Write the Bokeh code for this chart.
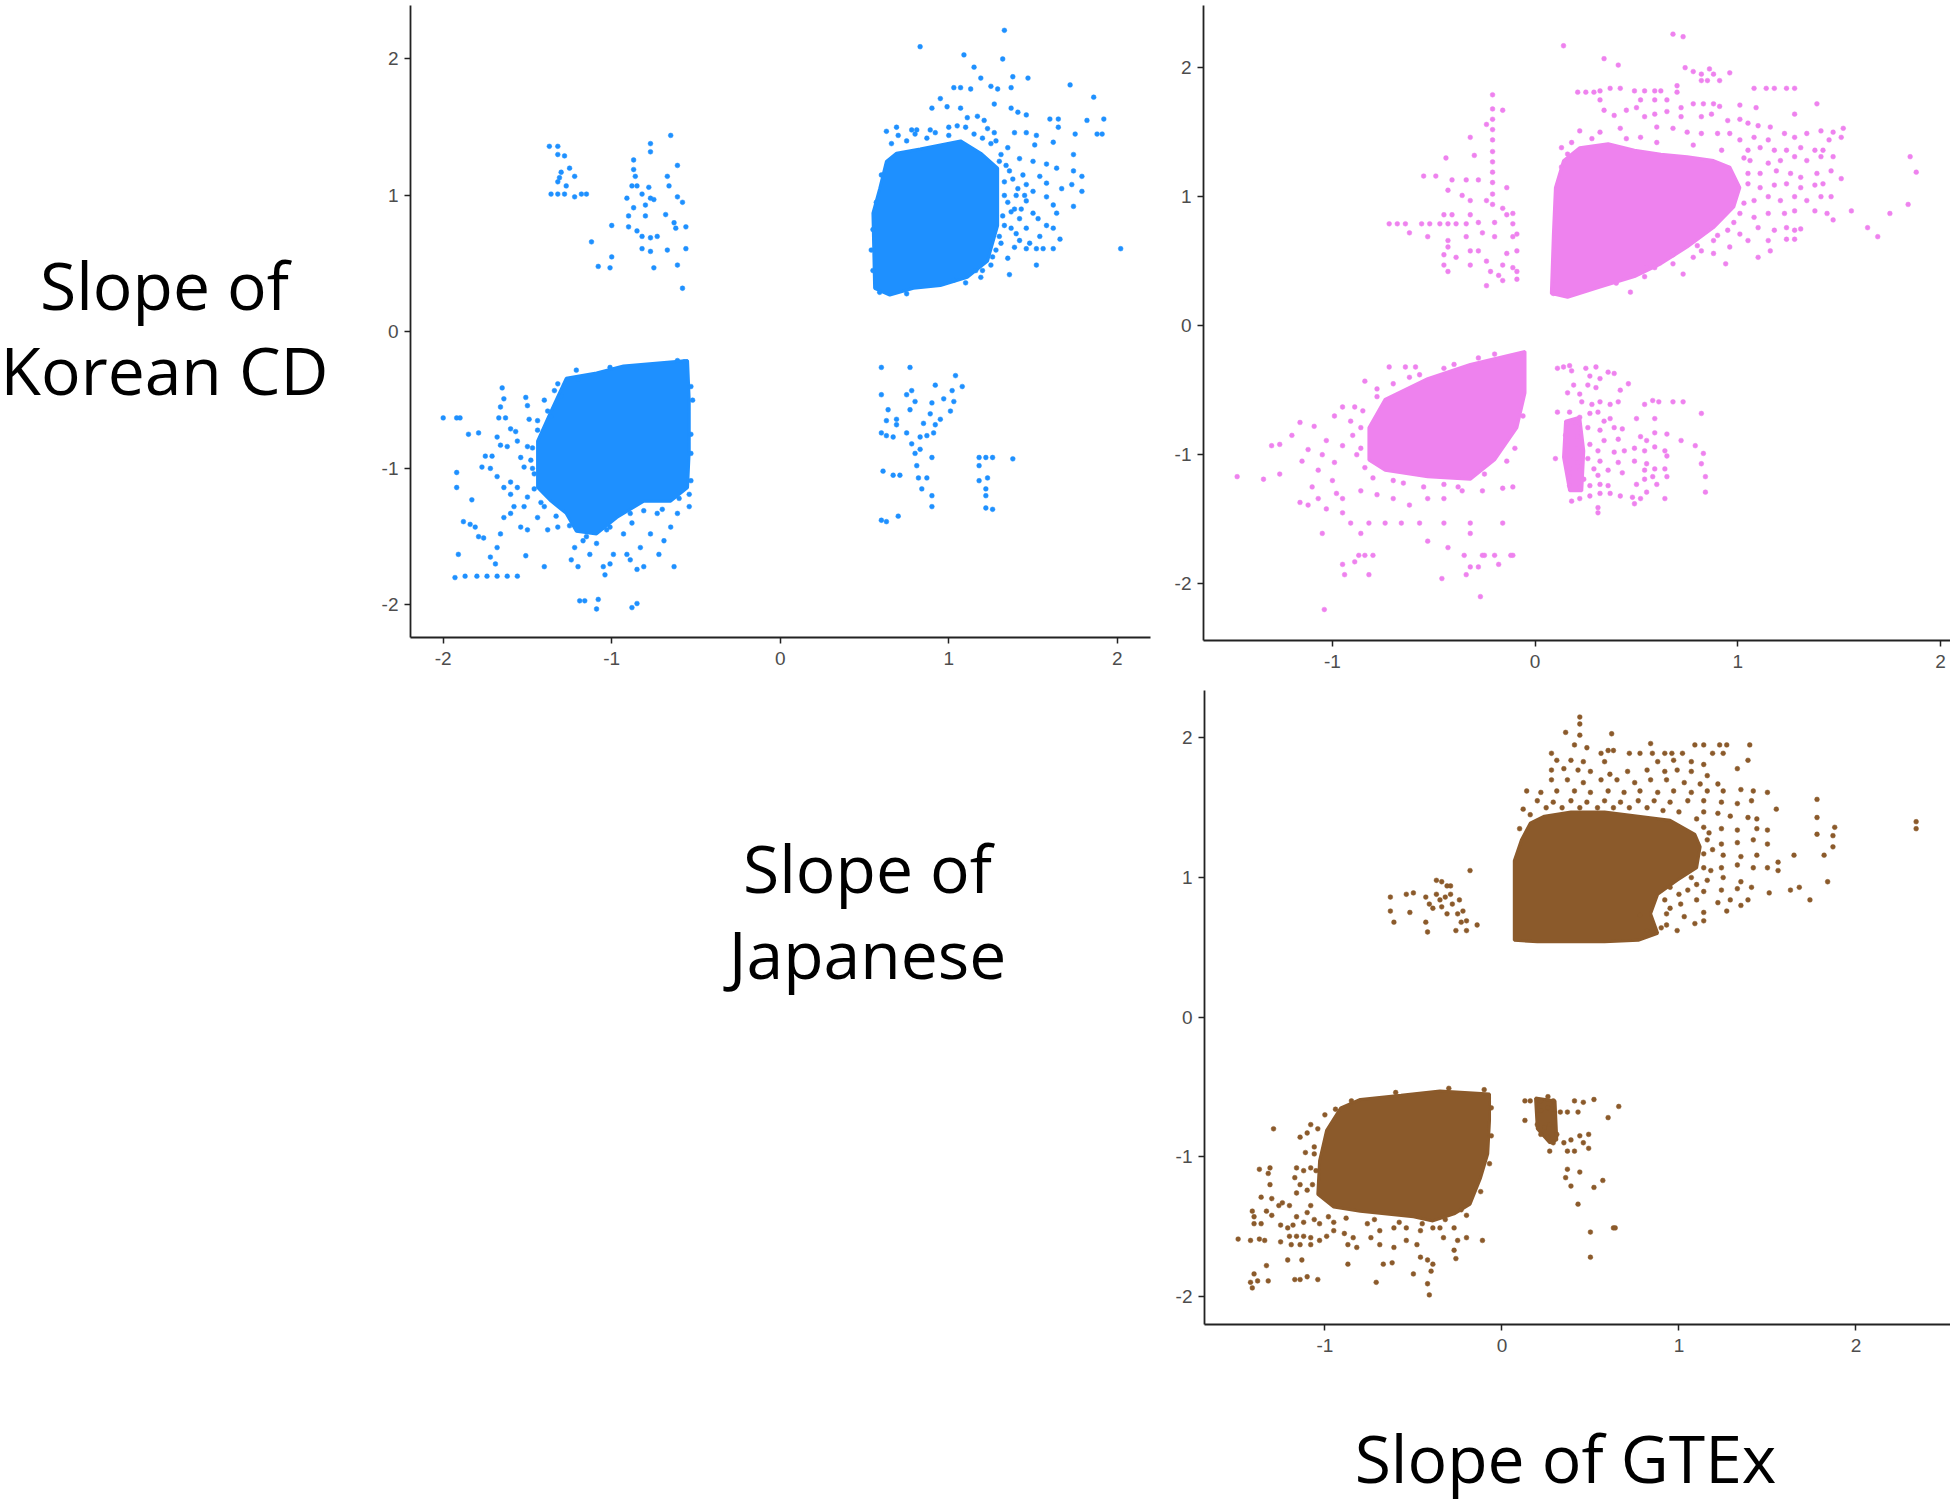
from bokeh.plotting import figure
from bokeh.models import Range1d, FixedTicker, Label
from bokeh.layouts import column, row
from bokeh.embed import file_html
from bokeh.resources import INLINE

# ---------------- data ----------------
tick_values = [-2, -1, 0, 1, 2]
tick_labels = {-2: "-2", -1: "-1", 0: "0", 1: "1", 2: "2"}

# Panel 1 (blue): dense cores as outlines, plus scattered points
blue_core_neg_x = [-1.44, -1.44, -1.36, -1.27, -1.09, -0.93, -0.55, -0.54, -0.54, -0.55, -0.65, -0.81, -0.97, -1.09, -1.21, -1.27, -1.36]
blue_core_neg_y = [-1.14, -0.80, -0.58, -0.34, -0.30, -0.25, -0.21, -0.50, -0.87, -1.14, -1.24, -1.24, -1.36, -1.48, -1.46, -1.33, -1.24]
blue_core_pos_x = [0.56, 0.55, 0.59, 0.63, 0.69, 0.83, 0.95, 1.07, 1.19, 1.29, 1.29, 1.23, 1.11, 0.95, 0.79, 0.65]
blue_core_pos_y = [0.32, 0.87, 1.05, 1.25, 1.31, 1.34, 1.37, 1.40, 1.31, 1.20, 0.78, 0.52, 0.40, 0.34, 0.32, 0.27]

blue_upper_left = [(-1.37,1.36),(-1.32,1.36),(-1.32,1.30),(-1.28,1.29),(-1.25,1.20),(-1.30,1.17),(-1.31,1.13),(-1.22,1.14),(-1.32,1.10),(-1.27,1.07),(-1.36,1.01),(-1.32,1.01),(-1.28,1.01),(-1.22,0.99),(-1.18,1.01),(-1.15,1.01),(-1.12,0.66),(-1.00,0.78),(-1.08,0.48),(-1.01,0.47),(-1.00,0.55),
    (-0.77,1.38),(-0.65,1.44),(-0.77,1.32),(-0.87,1.26),(-0.87,1.19),(-0.86,1.14),(-0.61,1.22),(-0.67,1.14),(-0.78,1.06),(-0.85,1.07),(-0.88,1.07),(-0.82,1.01),(-0.77,0.98),(-0.91,0.98),(-0.80,0.93),(-0.87,0.91),(-0.75,0.97),(-0.61,0.99),(-0.58,0.95),(-0.90,0.85),(-0.80,0.85),(-0.68,0.86),(-0.63,0.80),(-0.62,0.76),(-0.90,0.77),(-0.85,0.74),(-0.82,0.70),(-0.77,0.69),(-0.73,0.70),(-0.82,0.61),(-0.77,0.59),(-0.67,0.60),(-0.56,0.61),(-0.61,0.49),(-0.75,0.47),(-0.58,0.32),(-0.56,0.77),(-0.66,1.07)]

blue_lower_left = [(-2.00,-0.63),(-1.92,-0.63),(-1.90,-0.63),(-1.65,-0.41),(-1.64,-0.49),(-1.66,-0.55),(-1.51,-0.48),(-1.50,-0.54),(-1.67,-0.63),(-1.63,-0.63),(-1.49,-0.64),(-1.85,-0.75),(-1.79,-0.74),(-1.92,-1.03),(-1.92,-1.14),(-1.75,-0.91),(-1.71,-0.91),(-1.68,-0.77),(-1.66,-0.83),(-1.62,-0.84),(-1.60,-0.71),(-1.57,-0.73),(-1.56,-0.80),(-1.54,-0.92),(-1.52,-0.99),(-1.50,-0.84),(-1.48,-0.94),(-1.46,-1.04),(-1.77,-0.99),(-1.72,-1.00),(-1.68,-1.06),(-1.64,-1.14),(-1.60,-1.10),(-1.56,-1.14),(-1.60,-1.19),(-1.50,-1.21),(-1.83,-1.23),(-1.88,-1.39),(-1.84,-1.41),(-1.81,-1.43),(-1.79,-1.50),(-1.76,-1.51),(-1.91,-1.63),(-1.72,-1.65),(-1.69,-1.70),(-1.68,-1.58),(-1.66,-1.48),(-1.64,-1.36),(-1.60,-1.33),(-1.58,-1.28),(-1.54,-1.43),(-1.52,-1.28),(-1.50,-1.45),(-1.51,-1.64),(-1.44,-1.36),(-1.40,-1.28),(-1.38,-1.45),(-1.32,-1.43),
    (-1.93,-1.80),(-1.87,-1.79),(-1.80,-1.79),(-1.74,-1.79),(-1.68,-1.79),(-1.62,-1.79),(-1.56,-1.79),(-1.40,-1.72),(-1.24,-1.67),(-1.22,-1.58),(-1.20,-1.72),(-1.13,-1.63),(-1.17,-1.53),(-1.05,-1.72),(-1.04,-1.78),(-1.01,-1.70),(-0.99,-1.63),(-0.91,-1.63),(-0.89,-1.67),(-0.85,-1.74),(-0.81,-1.72),(-0.83,-1.58),(-0.77,-1.48),(-0.72,-1.63),(-0.69,-1.53),(-0.63,-1.72),(-1.19,-1.97),(-1.16,-1.97),(-1.08,-1.96),(-1.09,-2.03),(-0.88,-2.02),(-0.85,-1.99),(-0.65,-1.43),(-0.61,-1.33),(-0.54,-1.28),(-0.54,-1.19),(-0.53,-1.09),(-0.89,-1.33),(-0.81,-1.31),(-0.73,-1.33),(-1.01,-1.43),(-0.93,-1.48),(-1.09,-1.55),
    (-1.32,-0.38),(-1.34,-0.43),(-1.40,-0.50),(-1.38,-0.58),(-1.44,-0.65),(-1.44,-0.72),(-1.21,-0.28),(-1.01,-0.26),(-0.83,-0.26),(-0.61,-0.21),(-0.57,-0.22),(-0.53,-0.40),(-0.52,-0.50),(-0.53,-0.75),(-0.53,-0.89),
    (-1.47,-0.85),(-1.47,-1.00),(-1.46,-1.15),(-1.42,-1.25),(-1.33,-1.35),(-1.25,-1.42),(-1.15,-1.50),(-1.03,-1.45),(-0.88,-1.40),(-0.70,-1.30),(-0.60,-1.22),(-1.36,-0.62),(-1.30,-0.47),(-1.20,-0.35)]

blue_upper_right = [(1.33,2.21),(0.83,2.09),(1.09,2.03),(1.32,2.00),(1.15,1.94),(1.19,1.86),(1.38,1.87),(1.47,1.86),(1.03,1.79),(1.07,1.79),(1.13,1.78),(1.25,1.80),(1.29,1.78),(1.37,1.79),(1.72,1.81),(1.86,1.72),(0.95,1.71),(0.90,1.64),(0.99,1.65),(1.07,1.64),(1.27,1.67),(1.37,1.64),(1.41,1.61),(1.11,1.57),(1.17,1.58),(1.21,1.55),(0.63,1.47),(0.69,1.50),(0.78,1.48),(0.81,1.48),(0.89,1.48),(1.05,1.51),(1.46,1.59),(1.60,1.56),(1.65,1.56),(1.82,1.55),(1.92,1.56),(1.65,1.50),(1.75,1.45),(1.88,1.45),(1.91,1.45),(1.23,1.49),(1.27,1.46),(1.39,1.46),(1.46,1.46),(1.52,1.44),(0.87,1.42),(1.62,1.39),(1.51,1.37),(1.74,1.30),(1.42,1.27),(1.50,1.25),(1.58,1.23),(1.64,1.20),(1.74,1.18),(1.79,1.14),(1.54,1.14),(1.46,1.08),(1.58,1.09),(1.73,1.08),(1.41,1.05),(1.50,1.03),(1.67,1.05),(1.58,0.99),(1.79,1.03),(1.46,0.96),(1.74,0.92),(1.39,0.90),(1.50,0.87),(1.62,0.93),(1.64,0.87),(1.42,0.83),(1.53,0.83),(1.58,0.78),(1.62,0.76),(1.37,0.76),(1.46,0.76),(1.54,0.70),(1.66,0.68),(1.42,0.67),(1.48,0.65),(1.39,0.62),(1.46,0.61),(1.52,0.61),(1.56,0.61),(1.62,0.61),(2.02,0.61),(1.35,0.54),(1.25,0.49),(1.52,0.49),(1.36,0.42),(1.19,0.40),(0.59,0.29),(0.75,0.28),
    (1.33,1.10),(1.35,0.95),(1.32,0.85),(1.30,0.70),(1.28,0.60),(1.33,1.00),(1.36,1.18),(1.31,1.30),(1.25,1.38),(1.15,1.45),(1.00,1.44),(0.75,1.40),(0.66,1.38),(1.20,0.45),(1.10,0.36),(0.55,0.45),(0.54,0.60),(0.55,0.75),(0.57,0.95),(0.60,1.15),
    (1.30,1.25),(1.34,1.22),(1.38,1.12),(1.40,1.00),(1.37,0.88),(1.33,0.78),(1.31,0.65),(1.26,0.55),(1.16,0.45),(1.03,0.38),(0.70,1.44),(0.80,1.45),(0.92,1.46),(1.00,1.50),(1.10,1.50),(1.20,1.42),(1.28,1.40),(1.35,1.35),(1.44,1.15),(1.45,1.00),(1.43,0.90),(1.40,0.72)]

blue_lower_right = [(0.60,-0.26),(0.77,-0.26),(0.60,-0.46),(0.75,-0.46),(0.78,-0.43),(0.80,-0.51),(0.92,-0.39),(1.04,-0.32),(1.08,-0.40),(1.02,-0.43),(1.03,-0.51),(1.01,-0.58),(0.97,-0.49),(0.90,-0.52),(0.64,-0.57),(0.77,-0.57),(0.89,-0.60),(0.95,-0.64),(0.63,-0.65),(0.69,-0.64),(0.69,-0.68),(0.85,-0.67),(0.92,-0.68),(0.60,-0.74),(0.63,-0.76),(0.67,-0.77),(0.75,-0.74),(0.83,-0.77),(0.87,-0.76),(0.91,-0.74),(0.78,-0.82),(0.80,-0.89),(0.83,-0.86),(0.90,-0.92),(0.81,-0.98),(0.82,-1.07),(0.61,-1.02),(0.67,-1.05),(0.71,-1.05),(0.87,-1.07),(0.84,-1.15),(0.90,-1.20),(0.90,-1.28),(1.18,-0.92),(1.22,-0.92),(1.26,-0.92),(1.38,-0.93),(1.18,-0.98),(1.23,-1.07),(1.18,-1.09),(1.22,-1.15),(1.22,-1.20),(1.22,-1.29),(1.26,-1.30),(0.60,-1.38),(0.63,-1.39),(0.70,-1.35)]

# Panel 2 (violet)
pink_core_neg_x = [-0.05, -0.32, -0.53, -0.74, -0.82, -0.82, -0.74, -0.53, -0.32, -0.20, -0.09, -0.05]
pink_core_neg_y = [-0.20, -0.30, -0.41, -0.57, -0.79, -1.04, -1.12, -1.17, -1.19, -1.04, -0.79, -0.52]
pink_core_pos_x = [0.08, 0.09, 0.10, 0.14, 0.22, 0.36, 0.49, 0.62, 0.75, 0.88, 0.96, 1.01, 0.98, 0.88, 0.75, 0.62, 0.49, 0.32, 0.16]
pink_core_pos_y = [0.25, 0.71, 1.07, 1.28, 1.38, 1.41, 1.36, 1.33, 1.31, 1.28, 1.23, 1.07, 0.92, 0.76, 0.61, 0.48, 0.38, 0.30, 0.22]
pink_core_small_x = [0.15, 0.22, 0.24, 0.23, 0.17, 0.14]
pink_core_small_y = [-0.74, -0.71, -0.97, -1.28, -1.28, -1.02]

pink_upper_left = [(-0.72,0.79),(-0.68,0.79),(-0.64,0.79),(-0.56,0.79),(-0.52,0.79),(-0.47,0.79),(-0.43,0.79),(-0.39,0.79),(-0.34,0.79),
    (-0.21,1.79),(-0.21,1.68),(-0.21,1.60),(-0.21,1.52),(-0.21,1.44),(-0.21,1.35),(-0.21,1.27),(-0.21,1.19),(-0.21,1.11),(-0.21,1.02),(-0.21,0.94),
    (-0.32,1.46),(-0.24,1.56),(-0.30,1.32),(-0.44,1.30),(-0.49,1.16),(-0.55,1.16),(-0.41,1.13),(-0.34,1.13),(-0.28,1.13),(-0.43,1.05),(-0.36,1.01),(-0.32,0.97),(-0.24,0.97),(-0.16,0.91),(-0.14,0.86),(-0.11,0.79),(-0.20,0.80),(-0.28,0.80),(-0.32,0.86),(-0.41,0.86),(-0.45,0.86),(-0.34,0.69),(-0.43,0.66),(-0.26,0.72),(-0.20,0.69),(-0.32,0.58),(-0.43,0.61),(-0.45,0.55),(-0.39,0.53),(-0.28,0.58),(-0.24,0.50),(-0.16,0.47),(-0.09,0.58),(-0.11,0.69),(-0.09,0.42),(-0.45,0.47),(-0.43,0.42),(-0.32,0.47),(-0.22,0.42),(-0.18,0.39),(-0.09,0.36),(-0.24,0.31),(-0.53,0.69),(-0.62,0.72),
    (-0.16,1.67),(-0.14,1.07),(-0.11,0.87),(-0.09,0.71),(-0.14,0.56),(-0.11,0.45),(-0.16,0.35)]

pink_lower_left = [(-1.47,-1.17),(-1.34,-1.19),(-1.30,-0.93),(-1.26,-0.92),(-1.26,-1.15),(-1.16,-0.75),(-1.09,-0.78),(-1.03,-0.89),(-1.12,-0.96),(-1.07,-1.12),(-0.99,-1.06),(-0.95,-0.93),(-0.91,-0.74),(-0.84,-0.43),(-0.78,-0.49),(-0.72,-0.32),(-0.64,-0.32),(-0.59,-0.32),(-0.57,-0.38),(-0.89,-0.63),(-0.95,-0.63),(-0.86,-0.79),(-1.16,-1.37),(-1.12,-1.39),(-1.07,-1.34),(-0.95,-1.34),(-0.86,-1.28),(-0.78,-1.31),(-0.70,-1.34),(-0.62,-1.39),(-0.53,-1.34),(-0.45,-1.34),(-0.36,-1.28),(-0.26,-1.28),(-0.16,-1.26),(-1.03,-1.42),(-0.95,-1.45),(-0.91,-1.53),(-0.82,-1.53),(-0.74,-1.53),(-0.66,-1.53),(-0.57,-1.53),(-0.45,-1.53),(-0.32,-1.53),(-0.16,-1.53),(-1.05,-1.61),(-0.86,-1.61),(-0.53,-1.67),(-0.32,-1.61),(-0.43,-1.72),(-0.26,-1.78),(-0.20,-1.78),(-0.84,-1.78),(-0.89,-1.83),
    (-0.95,-1.85),(-0.87,-1.78),(-0.80,-1.78),(-0.82,-1.93),(-0.94,-1.93),(-1.04,-2.20),(-0.46,-1.96),(-0.35,-1.78),(-0.34,-1.93),(-0.32,-1.87),(-0.28,-1.87),(-0.25,-1.78),(-0.11,-1.78),(-0.27,-2.10),(-0.18,-1.85),
    (-0.90,-0.85),(-0.88,-1.00),(-0.80,-1.18),(-0.65,-1.22),(-0.45,-1.23),(-0.25,-1.15),(-0.14,-1.05),(-0.10,-0.95),(-0.06,-0.70),(-0.40,-0.30),(-0.20,-0.22),(-0.70,-0.45),(-0.99,-0.70),(-1.20,-0.85),(-1.00,-1.20),(-1.10,-1.25),
    (-0.86,-0.95),(-0.84,-1.10),(-0.70,-1.20),(-0.55,-1.25),(-0.38,-1.25),(-0.85,-0.66),(-0.78,-0.55),(-0.62,-0.40),(-0.45,-0.33),(-0.28,-0.25),(-1.05,-1.00),(-1.15,-1.05),(-0.98,-1.30)]

pink_upper_right = [(0.14,2.17),(0.68,2.26),(0.73,2.24),(0.34,2.07),(0.41,2.02),(0.74,2.00),(0.78,1.97),(0.82,1.95),(0.86,1.99),(0.88,1.95),(0.96,1.96),(0.82,1.90),(0.85,1.90),(0.91,1.90),(0.21,1.81),(0.25,1.81),(0.29,1.81),(0.32,1.82),(0.37,1.84),(0.42,1.84),(0.49,1.82),(0.54,1.82),(0.59,1.82),(0.62,1.82),(0.70,1.86),(0.70,1.81),(1.08,1.84),(1.14,1.84),(1.18,1.84),(1.24,1.84),(1.28,1.84),(0.32,1.75),(0.52,1.75),(0.59,1.75),(0.65,1.75),(0.78,1.72),(0.83,1.72),(0.88,1.72),(0.91,1.70),(0.72,1.69),(1.01,1.71),(1.09,1.69),(1.39,1.72),(1.28,1.64),(0.34,1.67),(0.39,1.63),(0.45,1.67),(0.50,1.69),(0.54,1.62),(0.59,1.64),(0.65,1.66),(0.72,1.62),(0.82,1.62),(0.87,1.64),(0.95,1.59),(1.01,1.60),(1.05,1.57),(1.10,1.55),(1.16,1.54),(0.22,1.51),(0.32,1.50),(0.42,1.53),(0.52,1.46),(0.60,1.54),(0.68,1.53),(0.75,1.50),(0.82,1.49),(0.90,1.49),(0.96,1.49),(1.01,1.44),(1.08,1.46),(1.15,1.44),(1.23,1.49),(1.28,1.46),(1.34,1.49),(1.41,1.51),(1.47,1.50),(1.52,1.53),(1.51,1.46),(1.45,1.44),(0.13,1.38),(0.16,1.33),(0.13,1.23),
    (1.05,1.36),(1.11,1.38),(1.18,1.36),(1.24,1.36),(1.31,1.38),(1.38,1.36),(1.42,1.36),(1.06,1.28),(1.15,1.26),(1.21,1.28),(1.28,1.31),(1.34,1.28),(1.41,1.31),(1.47,1.31),(1.85,1.31),(1.88,1.19),(1.05,1.18),(1.11,1.18),(1.19,1.20),(1.26,1.18),(1.31,1.15),(1.39,1.18),(1.46,1.20),(1.51,1.14),(1.11,1.07),(1.18,1.09),(1.24,1.10),(1.31,1.07),(1.38,1.09),(1.42,1.10),(1.08,0.97),(1.15,1.00),(1.21,0.97),(1.28,1.00),(1.34,0.97),(1.41,1.00),(1.46,1.00),(1.01,0.87),(1.08,0.84),(1.15,0.87),(1.23,0.87),(1.28,0.89),(1.38,0.89),(1.44,0.87),(1.56,0.89),(1.47,0.82),(1.75,0.87),(1.84,0.94),(1.64,0.76),(1.69,0.69),(0.95,0.74),(1.01,0.71),(1.10,0.76),(1.18,0.74),(1.24,0.76),(1.28,0.74),(1.31,0.75),(0.88,0.66),(0.96,0.61),(1.05,0.66),(1.15,0.66),(1.16,0.58),(1.24,0.67),(1.28,0.67),(0.82,0.58),(0.88,0.56),(0.78,0.53),(1.10,0.53),(0.94,0.48),(0.68,0.48),(0.73,0.40),(0.59,0.45),(0.54,0.38),(0.47,0.26),(0.09,0.25),
    (1.03,1.30),(1.05,1.10),(1.03,0.95),(0.98,0.80),(0.90,0.70),(0.80,0.62),(0.68,0.55),(0.55,0.45),(0.40,0.33),(0.28,1.45),(0.45,1.45),(0.60,1.42),(0.78,1.40),(0.92,1.36),(0.18,1.42)]

pink_lower_right = [(0.11,-0.33),(0.14,-0.32),(0.17,-0.31),(0.18,-0.35),(0.25,-0.33),(0.30,-0.32),(0.36,-0.36),(0.39,-0.37),(0.27,-0.39),(0.32,-0.41),(0.46,-0.45),(0.19,-0.46),(0.26,-0.46),(0.30,-0.48),(0.42,-0.50),(0.16,-0.52),(0.22,-0.53),(0.23,-0.59),(0.28,-0.61),(0.32,-0.59),(0.37,-0.61),(0.41,-0.59),(0.54,-0.61),(0.58,-0.58),(0.61,-0.59),(0.68,-0.59),(0.73,-0.59),(0.11,-0.67),(0.17,-0.67),(0.22,-0.71),(0.27,-0.68),(0.31,-0.67),(0.34,-0.74),(0.37,-0.72),(0.82,-0.68),(0.50,-0.72),(0.59,-0.72),(0.16,-0.76),(0.20,-0.75),(0.26,-0.79),(0.32,-0.81),(0.39,-0.79),(0.43,-0.80),(0.59,-0.83),(0.65,-0.84),(0.72,-0.89),(0.52,-0.86),(0.55,-0.89),(0.15,-0.85),(0.21,-0.86),(0.16,-0.93),(0.21,-0.95),(0.27,-0.92),(0.34,-0.89),(0.41,-0.88),(0.79,-0.93),(0.31,-0.97),(0.39,-0.98),(0.44,-0.97),(0.49,-0.95),(0.54,-0.97),(0.59,-0.94),(0.64,-0.97),(0.65,-1.01),(0.83,-0.99),(0.10,-1.03),(0.17,-1.02),(0.21,-1.06),(0.26,-1.03),(0.32,-1.05),(0.41,-1.06),(0.49,-1.05),(0.55,-1.07),(0.82,-1.07),(0.17,-1.11),(0.22,-1.12),(0.29,-1.11),(0.36,-1.12),(0.43,-1.14),(0.54,-1.12),(0.59,-1.11),(0.64,-1.11),(0.17,-1.17),(0.24,-1.19),(0.31,-1.16),(0.54,-1.19),(0.58,-1.17),(0.65,-1.17),(0.84,-1.17),(0.17,-1.24),(0.22,-1.25),(0.27,-1.24),(0.32,-1.23),(0.36,-1.24),(0.50,-1.23),(0.55,-1.29),(0.60,-1.23),(0.84,-1.29),(0.18,-1.36),(0.22,-1.34),(0.27,-1.32),(0.32,-1.30),(0.37,-1.30),(0.42,-1.32),(0.48,-1.33),(0.49,-1.38),(0.52,-1.34),(0.64,-1.34),(0.31,-1.41),(0.31,-1.45),(-0.11,-1.25),(-0.12,-1.78)]

# Panel 3 (brown)
brown_core_pos_x = [0.07, 0.07, 0.11, 0.16, 0.24, 0.39, 0.58, 0.77, 0.95, 1.09, 1.12, 1.10, 0.99, 0.88, 0.84, 0.88, 0.77, 0.58, 0.39, 0.20]
brown_core_pos_y = [0.55, 1.12, 1.27, 1.39, 1.44, 1.47, 1.47, 1.44, 1.41, 1.31, 1.22, 1.07, 0.98, 0.88, 0.74, 0.60, 0.55, 0.54, 0.54, 0.54]
brown_core_neg_x = [-1.03, -0.99, -0.91, -0.80, -0.57, -0.35, -0.07, -0.07, -0.08, -0.12, -0.18, -0.27, -0.39, -0.50, -0.65, -0.80, -0.95, -1.04]
brown_core_neg_y = [-1.03, -0.81, -0.65, -0.59, -0.56, -0.53, -0.55, -0.74, -0.98, -1.15, -1.34, -1.41, -1.46, -1.43, -1.41, -1.39, -1.36, -1.27]
brown_core_small_x = [0.19, 0.30, 0.31, 0.27, 0.20]
brown_core_small_y = [-0.58, -0.60, -0.88, -0.90, -0.80]

brown_upper = [(0.44,2.15),(0.44,2.10),(0.36,2.04),(0.44,2.02),(0.62,2.03),(0.41,1.95),(0.48,1.93),(0.28,1.89),(0.56,1.89),(0.60,1.91),(0.63,1.91),(0.84,1.96),(0.72,1.89),(0.78,1.89),(0.85,1.89),(0.92,1.89),(0.96,1.89),(1.02,1.89),(1.09,1.95),(1.14,1.95),(1.23,1.95),(1.27,1.95),(1.40,1.95),(1.19,1.89),(1.25,1.89),(0.88,1.83),(0.97,1.84),(1.07,1.83),(1.14,1.81),(1.39,1.84),(1.33,1.78),(0.31,1.84),(0.39,1.84),(0.46,1.83),(0.58,1.83),(0.28,1.77),(0.35,1.78),(0.43,1.77),(0.50,1.76),(0.61,1.74),(0.71,1.76),(0.82,1.77),(0.92,1.76),(0.99,1.77),(1.07,1.76),(1.16,1.73),(0.28,1.70),(0.37,1.70),(0.46,1.68),(0.56,1.70),(0.65,1.70),(0.75,1.68),(0.84,1.70),(0.93,1.70),(1.03,1.68),(1.12,1.67),(1.22,1.67),(0.14,1.62),(0.22,1.61),(0.31,1.62),(0.41,1.62),(0.50,1.61),(0.60,1.62),(0.69,1.61),(0.78,1.62),(0.88,1.61),(0.97,1.62),(1.07,1.61),(1.16,1.62),(1.25,1.62),(1.35,1.63),(1.42,1.62),(1.50,1.61),(0.20,1.55),(0.29,1.54),(0.39,1.55),(0.48,1.54),(0.58,1.55),(0.67,1.54),(0.77,1.55),(0.86,1.55),(0.95,1.54),(1.05,1.55),(1.14,1.55),(1.24,1.54),(1.33,1.53),(1.41,1.55),(0.12,1.49),(1.55,1.49),(1.78,1.56),
    (1.14,1.47),(1.22,1.46),(1.29,1.44),(1.39,1.43),(1.44,1.42),(1.14,1.36),(1.24,1.35),(1.33,1.34),(1.44,1.35),(1.50,1.34),(1.78,1.43),(1.88,1.36),(1.78,1.31),(1.87,1.30),(1.87,1.22),(1.16,1.27),(1.24,1.24),(1.33,1.25),(1.42,1.27),(1.50,1.24),(1.14,1.17),(1.25,1.16),(1.35,1.15),(1.44,1.16),(1.65,1.16),(1.82,1.16),(1.14,1.07),(1.24,1.07),(1.33,1.09),(1.42,1.07),(1.50,1.07),(1.56,1.11),(1.56,1.05),(1.07,1.00),(1.16,0.98),(1.25,1.00),(1.35,0.97),(1.84,0.97),(0.95,0.93),(1.05,0.91),(1.14,0.90),(1.24,0.91),(1.33,0.92),(1.41,0.93),(1.51,0.89),(1.63,0.91),(1.68,0.93),(1.74,0.84),(0.92,0.84),(1.01,0.81),(1.10,0.84),(1.22,0.82),(1.29,0.84),(1.39,0.84),(1.14,0.75),(0.93,0.74),(1.03,0.72),(1.27,0.76),(1.35,0.80),(0.90,0.64),(0.99,0.62),(1.09,0.67),(1.14,0.69),(0.82,0.62),(0.78,0.73),(2.34,1.40),(2.34,1.35),
    (0.25,1.50),(0.34,1.50),(0.44,1.50),(0.54,1.50),(0.63,1.50),(0.72,1.50),(0.82,1.50),(0.91,1.48),(1.00,1.47),(1.10,1.42),(1.17,1.32),(1.19,1.20),(1.18,1.05),(1.10,0.95),(1.00,0.88),(0.95,0.78),(0.93,0.66),(0.10,1.35),(0.16,1.45)]

brown_left = [(-0.63,0.86),(-0.63,0.76),(-0.61,0.68),(-0.54,0.88),(-0.50,0.89),(-0.52,0.75),(-0.43,0.86),(-0.41,0.81),(-0.39,0.78),(-0.43,0.68),(-0.42,0.61),(-0.37,0.98),(-0.34,0.97),(-0.31,0.94),(-0.35,0.84),(-0.32,0.86),(-0.29,0.88),(-0.34,0.79),(-0.28,0.81),(-0.24,0.84),(-0.31,0.74),(-0.25,0.74),(-0.22,0.76),(-0.23,0.68),(-0.20,0.69),(-0.26,0.62),(-0.20,0.62),(-0.14,0.66),(-0.18,1.05),(-0.37,0.88),(-0.29,0.94)]

brown_lower = [(-1.29,-0.80),(-0.94,-0.66),(-1.08,-0.77),(-1.04,-0.80),(-1.14,-0.86),(-1.10,-0.83),(-1.11,-0.97),(-1.06,-0.93),(-1.37,-1.09),(-1.31,-1.08),(-1.32,-1.12),(-1.31,-1.20),(-1.16,-1.08),(-1.12,-1.10),(-1.08,-1.08),(-1.17,-1.15),(-1.14,-1.20),(-1.16,-1.26),(-1.10,-1.24),(-1.36,-1.29),(-1.30,-1.30),(-1.24,-1.33),(-1.20,-1.35),(-1.41,-1.39),(-1.40,-1.43),(-1.33,-1.39),(-1.30,-1.42),(-1.26,-1.35),(-1.40,-1.48),(-1.36,-1.48),(-1.25,-1.49),(-1.21,-1.51),(-1.16,-1.43),(-1.12,-1.47),(-1.06,-1.45),(-1.18,-1.49),(-1.49,-1.59),(-1.42,-1.60),(-1.37,-1.59),(-1.34,-1.60),(-1.25,-1.61),(-1.20,-1.57),(-1.16,-1.57),(-1.12,-1.57),(-1.08,-1.58),(-1.19,-1.63),(-1.14,-1.63),(-1.08,-1.63),(-1.03,-1.60),(-0.99,-1.57),(-0.95,-1.53),(-0.89,-1.55),(-0.84,-1.58),(-0.87,-1.63),(-0.82,-1.65),(-1.03,-1.48),(-0.95,-1.47),(-0.76,-1.48),(-0.69,-1.53),(-0.61,-1.51),(-0.54,-1.51),(-0.46,-1.53),(-0.39,-1.51),(-0.74,-1.58),(-0.69,-1.63),(-0.61,-1.65),(-0.54,-1.60),(-0.48,-1.63),(-0.46,-1.72),(-0.42,-1.74),(-0.39,-1.77),(-0.40,-1.82),(-0.27,-1.51),(-0.25,-1.60),(-0.27,-1.67),(-0.26,-1.73),(-0.35,-1.51),(-0.33,-1.58),(-0.20,-1.58),(-0.11,-1.60),(-1.21,-1.74),(-1.13,-1.74),(-1.33,-1.78),(-0.87,-1.77),(-0.67,-1.77),(-0.62,-1.76),(-1.40,-1.84),(-1.42,-1.90),(-1.38,-1.89),(-1.32,-1.89),(-1.41,-1.94),(-1.17,-1.88),(-1.14,-1.88),(-1.10,-1.86),(-1.04,-1.88),(-0.71,-1.90),(-0.50,-1.84),(-0.42,-1.91),(-0.41,-1.99),
    (-1.00,-0.70),(-0.85,-0.60),(-0.60,-0.54),(-0.30,-0.51),(-0.10,-0.52),(-0.06,-0.65),(-0.06,-0.85),(-0.07,-1.05),(-0.12,-1.25),(-0.20,-1.42),(-1.05,-1.10),(-1.08,-1.35),
    (-1.07,-1.20),(-1.10,-1.40),(-0.98,-1.43),(-0.88,-1.44),(-0.72,-1.45),(-0.58,-1.47),(-0.45,-1.48),(-0.32,-1.45),(-0.23,-1.38),(-1.06,-0.98)]

brown_lower_right = [(0.13,-0.60),(0.16,-0.60),(0.13,-0.74),(0.22,-0.60),(0.26,-0.57),(0.29,-0.60),(0.22,-0.67),(0.26,-0.65),(0.29,-0.69),(0.33,-0.68),(0.37,-0.68),(0.43,-0.68),(0.20,-0.77),(0.24,-0.79),(0.27,-0.77),(0.22,-0.84),(0.26,-0.86),(0.31,-0.84),(0.29,-0.90),(0.35,-0.90),(0.39,-0.88),(0.44,-0.85),(0.49,-0.84),(0.46,-0.90),(0.49,-0.94),(0.37,-0.96),(0.41,-0.96),(0.27,-0.96),(0.41,-0.60),(0.46,-0.61),(0.52,-0.59),(0.66,-0.64),(0.60,-0.72),(0.37,-1.09),(0.44,-1.11),(0.36,-1.15),(0.39,-1.21),(0.52,-1.22),(0.57,-1.17),(0.43,-1.34),(0.63,-1.51),(0.64,-1.51),(0.50,-1.54),(0.50,-1.72)]

label_korean = ["Slope of", "Korean CD"]
label_japanese = ["Slope of", "Japanese"]
label_gtex = "Slope of GTEx"

# ---------------- styling ----------------
BLUE = "#1E90FF"
PINK = "#EE82EE"
BROWN = "#8B5A2B"
TEXT_FONT = "Open Sans"
TEXT_SIZE = "66px"


def scatter_fig(xr, yr, fw, fh, mbl, mbr, mbt, mbb):
    p = figure(frame_width=fw, frame_height=fh, title=None,
               x_range=Range1d(*xr), y_range=Range1d(*yr),
               output_backend="svg", toolbar_location=None,
               min_border_left=mbl, min_border_right=mbr,
               min_border_top=mbt, min_border_bottom=mbb,
               background_fill_color="white", border_fill_color="white")
    p.grid.visible = False
    p.outline_line_color = None
    for ax in p.axis:
        ax.ticker = FixedTicker(ticks=tick_values)
        ax.major_label_overrides = tick_labels
        ax.axis_line_color = "#222222"
        ax.axis_line_width = 1.8
        ax.major_tick_line_color = "#222222"
        ax.major_tick_line_width = 1.5
        ax.major_tick_out = 6
        ax.major_tick_in = 0
        ax.minor_tick_line_color = None
        ax.major_label_text_font = "Liberation Sans"
        ax.major_label_text_font_size = "19px"
        ax.major_label_text_color = "#4D4D4D"
    p.xaxis.major_label_standoff = 8
    p.yaxis.major_label_standoff = 6
    return p


def add_cloud(p, color, cores, groups):
    for cx, cy in cores:
        p.patch(cx, cy, fill_color=color, line_color=color, line_width=3)
    for g in groups:
        xs = [pt[0] for pt in g]
        ys = [pt[1] for pt in g]
        p.scatter(xs, ys, size=4.8, fill_color=color, line_color=color, line_width=0.5)


def label_fig(w, h, items):
    p = figure(width=w, height=h, title=None,
               x_range=Range1d(0, w), y_range=Range1d(h, 0),
               output_backend="svg", toolbar_location=None,
               x_axis_location=None, y_axis_location=None,
               min_border=0, min_border_left=0, min_border_right=0,
               min_border_top=0, min_border_bottom=0)
    p.grid.visible = False
    p.outline_line_color = None
    for (x, y, t) in items:
        p.add_layout(Label(x=x, y=y, text=t, text_align="center",
                           text_baseline="alphabetic", text_font=TEXT_FONT,
                           text_font_size=TEXT_SIZE, text_color="black"))
    return p


# Panel 1 (frame 410..1150 x 5..637)
p1 = scatter_fig((-2.194, 2.197), (-2.239, 2.392), 740, 632, 50, 3, 5, 43)
add_cloud(p1, BLUE,
          [(blue_core_neg_x, blue_core_neg_y), (blue_core_pos_x, blue_core_pos_y)],
          [blue_upper_left, blue_lower_left, blue_upper_right, blue_lower_right])

# Panel 2 (frame 1203..1950 x 5..640)
p2 = scatter_fig((-1.636, 2.049), (-2.440, 2.482), 747, 635, 50, 0, 5, 40)
add_cloud(p2, PINK,
          [(pink_core_neg_x, pink_core_neg_y), (pink_core_pos_x, pink_core_pos_y),
           (pink_core_small_x, pink_core_small_y)],
          [pink_upper_left, pink_lower_left, pink_upper_right, pink_lower_right])

# Panel 3 (frame 1204..1950 x 690..1324)
p3 = scatter_fig((-1.680, 2.534), (-2.202, 2.340), 746, 634, 50, 0, 10, 40)
add_cloud(p3, BROWN,
          [(brown_core_pos_x, brown_core_pos_y), (brown_core_neg_x, brown_core_neg_y),
           (brown_core_small_x, brown_core_small_y)],
          [brown_upper, brown_left, brown_lower, brown_lower_right])

lab_a = label_fig(360, 680, [(164, 300, label_korean[0]), (164, 391, label_korean[1])])
lab_b = label_fig(1154, 684, [(867, 190, label_japanese[0]), (867, 283, label_japanese[1])])
lab_c = label_fig(1950, 138, [(1565, 92, label_gtex)])

layout = column(row(lab_a, p1, p2), row(lab_b, p3), lab_c)

open("out.html", "w").write(file_html(layout, INLINE))
